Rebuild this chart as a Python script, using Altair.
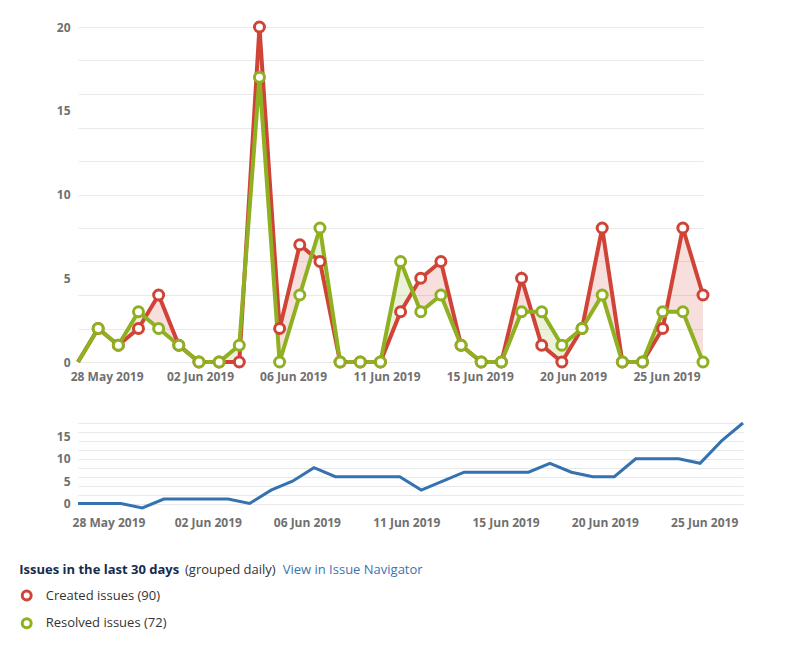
import json
import altair as alt
import pandas as pd

# ---- data ----
days = list(range(32))
created = [0, 2, 1, 2, 4, 1, 0, 0, 0, 20, 2, 7, 6, 0, 0, 0, 3, 5, 6, 1, 0, 0, 5, 1, 0, 2, 8, 0, 0, 2, 8, 4]
resolved = [0, 2, 1, 3, 2, 1, 0, 0, 1, 17, 0, 4, 8, 0, 0, 0, 6, 3, 4, 1, 0, 0, 3, 3, 1, 2, 4, 0, 0, 3, 3, 0]
unresolved = [0, 0, 0, -1, 1, 1, 1, 1, 0, 3, 5, 8, 6, 6, 6, 6, 3, 5, 7, 7, 7, 7, 9, 7, 6, 6, 10, 10, 10, 9, 14, 18]

tick_pos = [1.42, 6.05, 10.67, 15.3, 19.93, 24.56, 29.19]
tick_labels = ["28 May 2019", "02 Jun 2019", "06 Jun 2019", "11 Jun 2019",
               "15 Jun 2019", "20 Jun 2019", "25 Jun 2019"]
top_y_ticks = [0, 2, 4, 5, 6, 8, 10, 12, 14, 15, 16, 18, 20]
bottom_y_ticks = [0, 2, 4, 5, 6, 8, 10, 12, 14, 15, 16, 18]

title_parts = ["Issues in the last 30 days", "(grouped daily)", "View in Issue Navigator"]
series_names = ["Created issues (90)", "Resolved issues (72)"]

RED = "#d04437"
GREEN = "#8eb021"
BLUE = "#3572b0"
GRID = "#e9e9e9"
LABEL = "#707070"
FONT = "Open Sans"

df = pd.DataFrame({"day": days, "created": created, "resolved": resolved})
df_u = pd.DataFrame({"day": days, "unresolved": unresolved})

label_expr = f"{json.dumps(tick_labels)}[indexof({json.dumps(tick_pos)}, datum.value)]"

x_axis = alt.Axis(values=tick_pos, labelExpr=label_expr, grid=False, domain=False,
                  ticks=False, labelPadding=9, title=None, labelFont=FONT,
                  labelFontSize=12, labelFontWeight="bold", labelColor=LABEL,
                  labelFlush=False, labelOverlap=False)
x_scale = alt.Scale(domain=[0, 31], nice=False, zero=False)


def y_axis(vals):
    return alt.Axis(values=vals, labelExpr="datum.value % 5 === 0 ? datum.label : ''",
                    gridOpacity={"condition": {"test": "datum.value % 2 === 0", "value": 1}, "value": 0},
                    gridColor=GRID, gridWidth=1, domain=False, ticks=False, labelPadding=8,
                    title=None, labelFont=FONT, labelFontSize=12, labelFontWeight="bold",
                    labelColor=LABEL, labelOverlap=False, minExtent=59, maxExtent=59)


top_scale = alt.Scale(domain=[0, 20], nice=False)

# fill between the two series, split at crossings
fill_base = (
    alt.Chart(df)
    .transform_window(c_next="lead(created)", r_next="lead(resolved)", sort=[{"field": "day"}])
    .transform_calculate(
        d="datum.created - datum.resolved",
        dn="datum.c_next - datum.r_next",
    )
    .transform_calculate(
        cross="isValid(datum.c_next) && datum.d * datum.dn < 0",
        t="datum.d / (datum.d - datum.dn)",
    )
    .transform_calculate(
        yc="datum.created + datum.t * (datum.c_next - datum.created)",
    )
    .transform_calculate(
        xs="datum.cross ? [datum.day, datum.day + datum.t] : [datum.day]",
        cs="datum.cross ? [datum.created, datum.yc] : [datum.created]",
        rs="datum.cross ? [datum.resolved, datum.yc] : [datum.resolved]",
    )
    .transform_flatten(["xs", "cs", "rs"], as_=["fx", "fc", "fr"])
    .transform_calculate(lo="min(datum.fc, datum.fr)")
)

pink = fill_base.mark_area(color=RED, opacity=0.17).encode(
    x=alt.X("fx:Q", scale=x_scale, axis=x_axis),
    y=alt.Y("fc:Q", scale=top_scale, axis=y_axis(top_y_ticks)),
    y2="lo:Q",
)
greenfill = fill_base.mark_area(color=GREEN, opacity=0.17).encode(
    x=alt.X("fx:Q", scale=x_scale, axis=x_axis),
    y=alt.Y("fr:Q", scale=top_scale, axis=y_axis(top_y_ticks)),
    y2="lo:Q",
)

base = alt.Chart(df)
red_line = base.mark_line(color=RED, strokeWidth=4).encode(
    x=alt.X("day:Q", scale=x_scale, axis=x_axis),
    y=alt.Y("created:Q", scale=top_scale, axis=y_axis(top_y_ticks)),
)
green_line = base.mark_line(color=GREEN, strokeWidth=4).encode(
    x=alt.X("day:Q", scale=x_scale, axis=x_axis),
    y=alt.Y("resolved:Q", scale=top_scale, axis=y_axis(top_y_ticks)),
)
red_pts = base.transform_filter("datum.day > 0").mark_point(
    shape="circle", filled=True, fill="white", stroke=RED, strokeWidth=3, size=100, opacity=1
).encode(
    x=alt.X("day:Q", scale=x_scale, axis=x_axis),
    y=alt.Y("created:Q", scale=top_scale, axis=y_axis(top_y_ticks)),
)
green_pts = base.transform_filter("datum.day > 0").mark_point(
    shape="circle", filled=True, fill="white", stroke=GREEN, strokeWidth=3, size=100, opacity=1
).encode(
    x=alt.X("day:Q", scale=x_scale, axis=x_axis),
    y=alt.Y("resolved:Q", scale=top_scale, axis=y_axis(top_y_ticks)),
)

top = alt.layer(pink, greenfill, red_line, green_line, red_pts, green_pts).properties(
    width=625, height=335
)

bottom = alt.Chart(df_u).mark_line(color=BLUE, strokeWidth=3).encode(
    x=alt.X("day:Q", scale=x_scale, axis=x_axis),
    y=alt.Y("unresolved:Q", scale=alt.Scale(domain=[-1, 18], nice=False, zero=False),
            axis=y_axis(bottom_y_ticks)),
).properties(width=665, height=85)

# ---- legend panel (origin aligned with the plots' left edge) ----
def txt(s, x, y, **kw):
    return alt.Chart(pd.DataFrame({"t": [s]})).mark_text(
        align="left", baseline="middle", font=FONT, fontSize=13, **kw
    ).encode(text="t:N", x=alt.value(x), y=alt.value(y))


def dot(color, x, y):
    return alt.Chart(pd.DataFrame({"t": [0]})).mark_point(
        shape="circle", filled=False, stroke=color, strokeWidth=3, size=80, opacity=1
    ).encode(x=alt.value(x), y=alt.value(y))


row0, row1, row2 = 7, 32.5, 60.2
legend = alt.layer(
    txt(title_parts[0], -58.7, row0, fontWeight="bold", color="#172b4d"),
    txt(title_parts[1], 107, row0, color="#333333"),
    txt(title_parts[2], 204.7, row0, color="#3b73af"),
    dot(RED, -51.3, row1),
    txt(series_names[0], -32.3, row1, color="#333333"),
    dot(GREEN, -51.3, row2),
    txt(series_names[1], -32.3, row2, color="#333333"),
).properties(width=420, height=70)

chart = (
    alt.vconcat(top, bottom, legend, spacing=35)
    .properties(padding={"left": 8, "top": 8, "right": 5, "bottom": 5}, background="white")
    .configure_view(stroke=None)
)

chart.save("out.html", embed_options={"renderer": "svg", "actions": False})
